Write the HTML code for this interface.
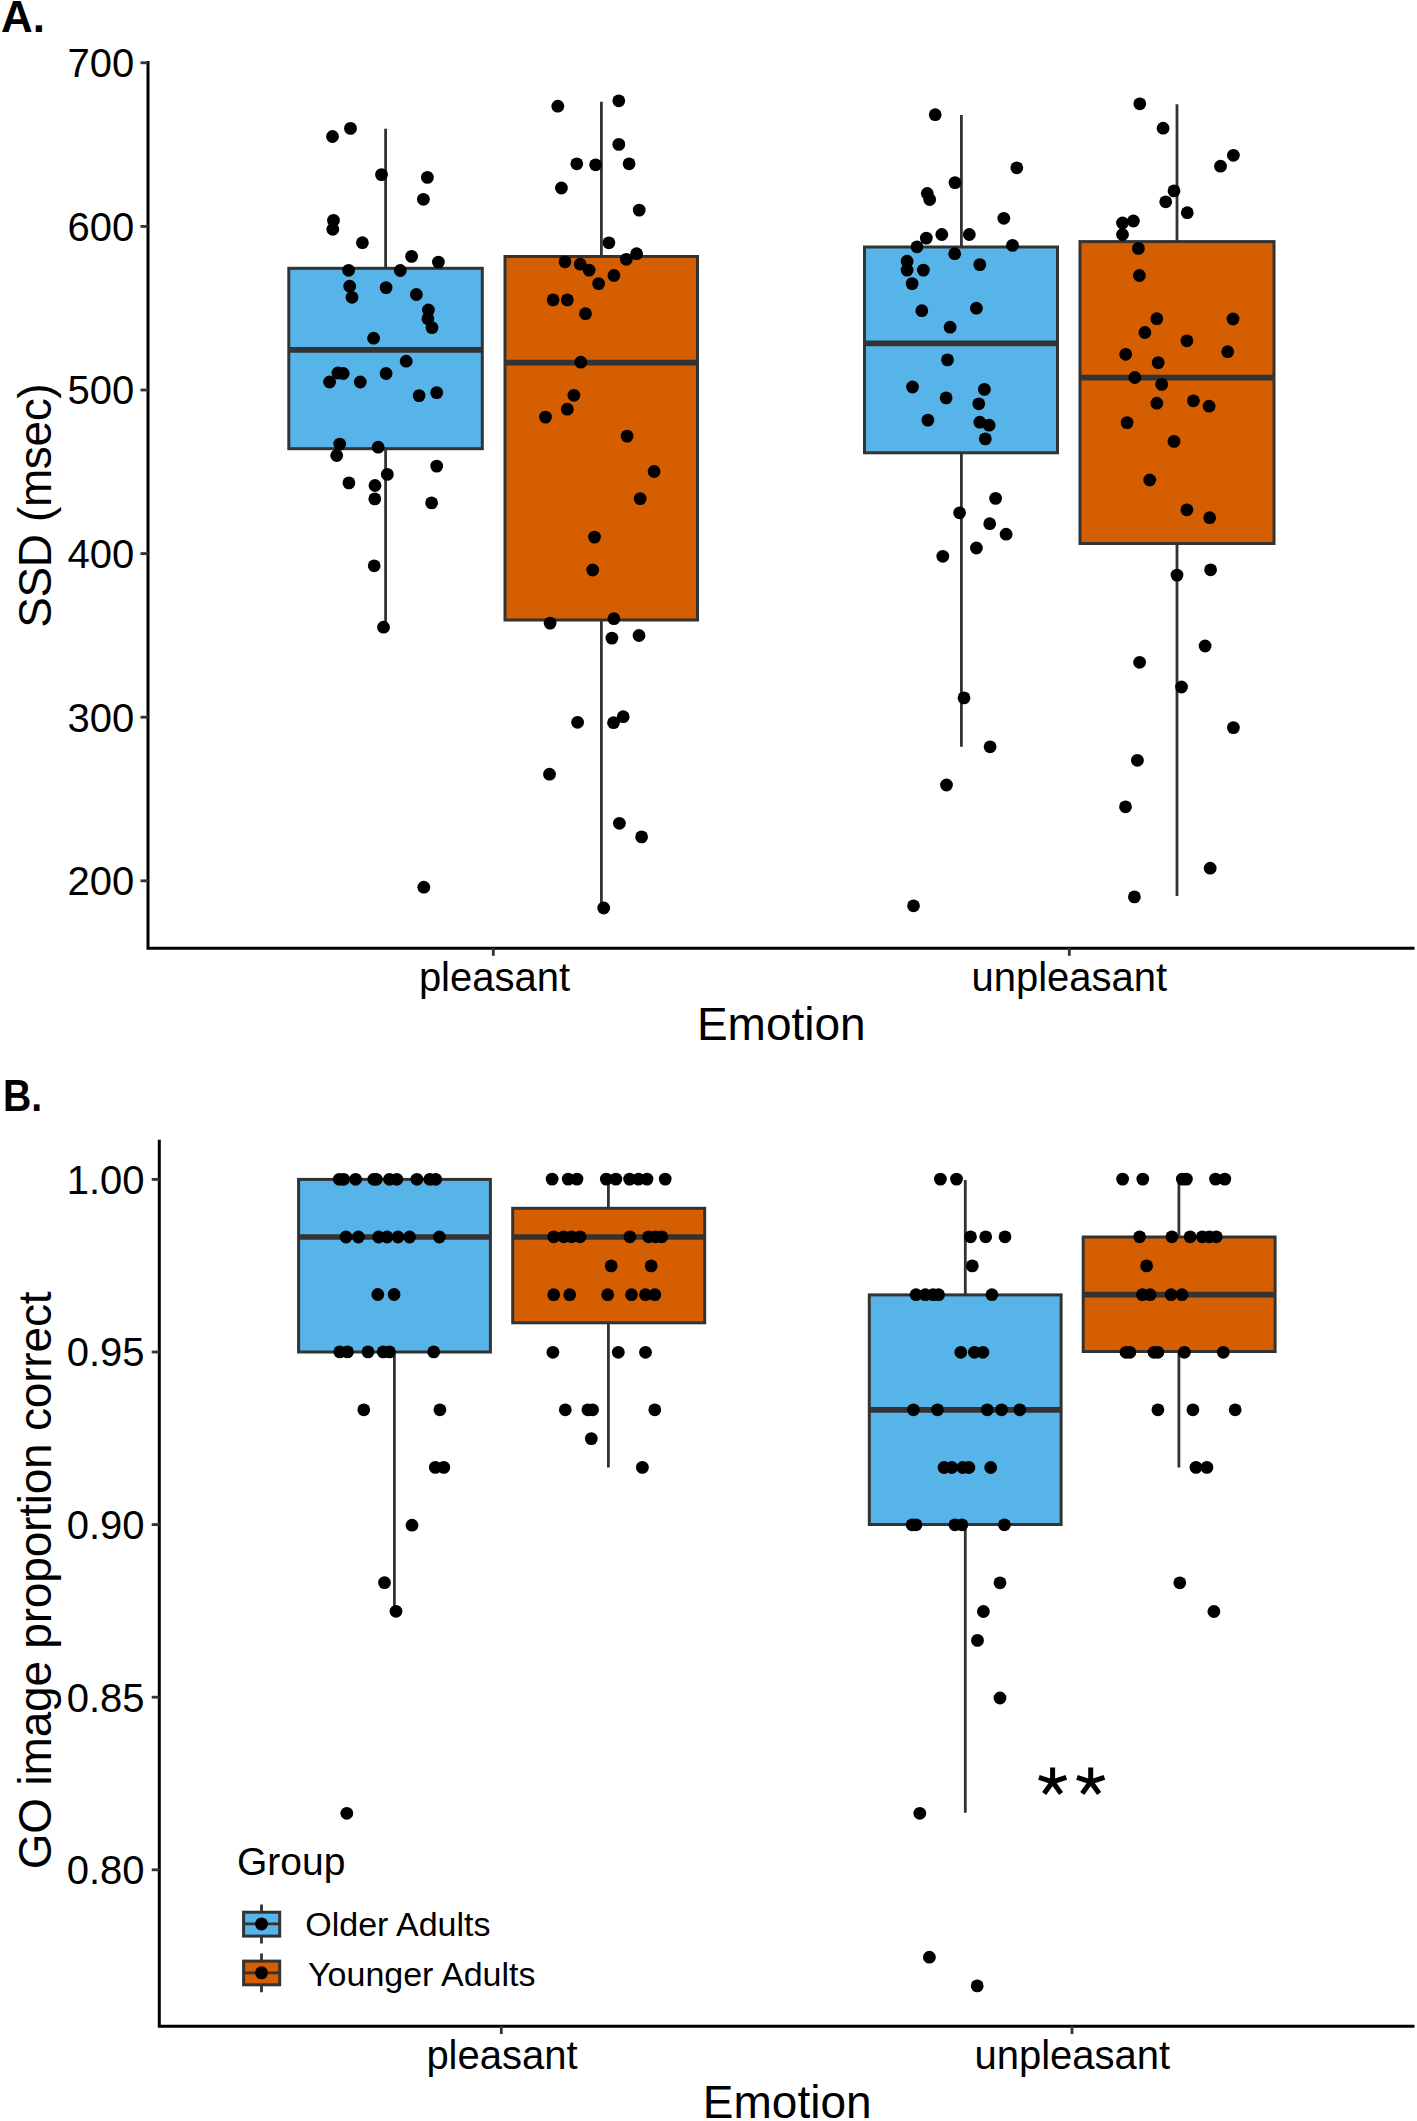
<!DOCTYPE html>
<html><head><meta charset="utf-8"><title>Boxplots</title>
<style>
html,body{margin:0;padding:0;background:#fff;}
body{width:1417px;height:2121px;overflow:hidden;}
svg{display:block;}
</style></head>
<body>
<svg width="1417" height="2121" viewBox="0 0 1417 2121">
<rect width="1417" height="2121" fill="#fff"/>
<g stroke="#000" stroke-width="3" fill="none">
<path d="M148 61 V948.2 H1414.5"/>
<path d="M159.3 1139.7 V2026.3 H1414.5"/>
</g>
<g stroke="#333333" stroke-width="2.8">
<path d="M140.5 62.8 H148"/>
<path d="M140.5 226.4 H148"/>
<path d="M140.5 390 H148"/>
<path d="M140.5 553.6 H148"/>
<path d="M140.5 717.2 H148"/>
<path d="M140.5 880.8 H148"/>
<path d="M493.3 948 V955.8"/>
<path d="M1069.3 948 V955.8"/>
<path d="M151.7 1179.4 H159.3"/>
<path d="M151.7 1352 H159.3"/>
<path d="M151.7 1524.6 H159.3"/>
<path d="M151.7 1697.2 H159.3"/>
<path d="M151.7 1869.8 H159.3"/>
<path d="M501.3 2026 V2034"/>
<path d="M1072 2026 V2034"/>
</g>
<g stroke="#333333">
<path d="M385.6 128.7 V268.3 M385.6 448.7 V627" stroke-width="2.8"/>
<rect x="288.8" y="268.3" width="193.5" height="180.4" fill="#56B4E9" stroke-width="3"/>
<path d="M288.8 349.9 H482.3" stroke-width="5.7"/>
</g>
<g stroke="#333333">
<path d="M601.4 101.8 V256.5 M601.4 620 V906" stroke-width="2.8"/>
<rect x="505" y="256.5" width="192.5" height="363.5" fill="#D55E00" stroke-width="3"/>
<path d="M505 362.6 H697.5" stroke-width="5.7"/>
</g>
<g stroke="#333333">
<path d="M961.4 115.1 V247 M961.4 452.8 V746.8" stroke-width="2.8"/>
<rect x="864.5" y="247" width="193" height="205.8" fill="#56B4E9" stroke-width="3"/>
<path d="M864.5 343.4 H1057.5" stroke-width="5.7"/>
</g>
<g stroke="#333333">
<path d="M1177 104.2 V241.6 M1177 543.5 V896" stroke-width="2.8"/>
<rect x="1080" y="241.6" width="194" height="301.9" fill="#D55E00" stroke-width="3"/>
<path d="M1080 377.7 H1274" stroke-width="5.7"/>
</g>
<g stroke="#333333">
<path d="M394.4 1179.4 V1179.4 M394.4 1352 V1610" stroke-width="2.8"/>
<rect x="298.6" y="1179.4" width="191.8" height="172.6" fill="#56B4E9" stroke-width="3"/>
<path d="M298.6 1237 H490.4" stroke-width="5.7"/>
</g>
<g stroke="#333333">
<path d="M608.4 1179.4 V1208.3 M608.4 1322.8 V1467.4" stroke-width="2.8"/>
<rect x="512.7" y="1208.3" width="192" height="114.5" fill="#D55E00" stroke-width="3"/>
<path d="M512.7 1237 H704.7" stroke-width="5.7"/>
</g>
<g stroke="#333333">
<path d="M965.3 1179.9 V1294.9 M965.3 1524.5 V1812.8" stroke-width="2.8"/>
<rect x="869.3" y="1294.9" width="191.8" height="229.6" fill="#56B4E9" stroke-width="3"/>
<path d="M869.3 1409.8 H1061.1" stroke-width="5.7"/>
</g>
<g stroke="#333333">
<path d="M1178.9 1179.4 V1237 M1178.9 1351.5 V1467.4" stroke-width="2.8"/>
<rect x="1083.2" y="1237" width="191.9" height="114.5" fill="#D55E00" stroke-width="3"/>
<path d="M1083.2 1294.7 H1275.1" stroke-width="5.7"/>
</g>
<g fill="#000">
<circle cx="332.5" cy="136.5" r="6.4"/>
<circle cx="350.5" cy="128.4" r="6.4"/>
<circle cx="381.5" cy="174.6" r="6.4"/>
<circle cx="427.4" cy="177.4" r="6.4"/>
<circle cx="423.4" cy="199.3" r="6.4"/>
<circle cx="333.5" cy="220.4" r="6.4"/>
<circle cx="332.8" cy="229.3" r="6.4"/>
<circle cx="362.4" cy="242.7" r="6.4"/>
<circle cx="411.6" cy="256.4" r="6.4"/>
<circle cx="438.4" cy="262.1" r="6.4"/>
<circle cx="348.6" cy="270.3" r="6.4"/>
<circle cx="400.3" cy="270.5" r="6.4"/>
<circle cx="349.7" cy="286.2" r="6.4"/>
<circle cx="352" cy="297.3" r="6.4"/>
<circle cx="386.1" cy="287.6" r="6.4"/>
<circle cx="416.4" cy="294.5" r="6.4"/>
<circle cx="428.4" cy="310" r="6.4"/>
<circle cx="427.9" cy="318.8" r="6.4"/>
<circle cx="432" cy="327.6" r="6.4"/>
<circle cx="373.6" cy="338.2" r="6.4"/>
<circle cx="406.2" cy="361.2" r="6.4"/>
<circle cx="337.9" cy="373" r="6.4"/>
<circle cx="343.2" cy="373.5" r="6.4"/>
<circle cx="329.6" cy="382" r="6.4"/>
<circle cx="360.3" cy="382" r="6.4"/>
<circle cx="386.1" cy="373.5" r="6.4"/>
<circle cx="419.1" cy="395.6" r="6.4"/>
<circle cx="436.7" cy="392.6" r="6.4"/>
<circle cx="339.7" cy="444.1" r="6.4"/>
<circle cx="336.7" cy="455.5" r="6.4"/>
<circle cx="378.2" cy="447.2" r="6.4"/>
<circle cx="436.7" cy="466.1" r="6.4"/>
<circle cx="387.3" cy="474.4" r="6.4"/>
<circle cx="348.9" cy="482.9" r="6.4"/>
<circle cx="375" cy="485.5" r="6.4"/>
<circle cx="374.8" cy="498.9" r="6.4"/>
<circle cx="431.6" cy="502.9" r="6.4"/>
<circle cx="374.2" cy="565.8" r="6.4"/>
<circle cx="383.5" cy="627.2" r="6.4"/>
<circle cx="423.8" cy="887.2" r="6.4"/>
<circle cx="557.8" cy="106.2" r="6.4"/>
<circle cx="618.8" cy="100.8" r="6.4"/>
<circle cx="618.8" cy="144.4" r="6.4"/>
<circle cx="576.8" cy="163.8" r="6.4"/>
<circle cx="595.6" cy="164.8" r="6.4"/>
<circle cx="629.1" cy="163.8" r="6.4"/>
<circle cx="561.4" cy="188" r="6.4"/>
<circle cx="639.2" cy="210.1" r="6.4"/>
<circle cx="608.9" cy="242.8" r="6.4"/>
<circle cx="636.6" cy="253.7" r="6.4"/>
<circle cx="626.3" cy="259.3" r="6.4"/>
<circle cx="565" cy="261.8" r="6.4"/>
<circle cx="580.2" cy="264.2" r="6.4"/>
<circle cx="589.1" cy="270.1" r="6.4"/>
<circle cx="613.9" cy="275.5" r="6.4"/>
<circle cx="598.6" cy="283.6" r="6.4"/>
<circle cx="553.1" cy="299.9" r="6.4"/>
<circle cx="567.3" cy="299.9" r="6.4"/>
<circle cx="585.5" cy="313.7" r="6.4"/>
<circle cx="580.8" cy="362.2" r="6.4"/>
<circle cx="573.9" cy="395.3" r="6.4"/>
<circle cx="567.3" cy="409.2" r="6.4"/>
<circle cx="545.5" cy="417.1" r="6.4"/>
<circle cx="627.1" cy="436.1" r="6.4"/>
<circle cx="654.1" cy="471.5" r="6.4"/>
<circle cx="640.2" cy="498.6" r="6.4"/>
<circle cx="594.5" cy="537.1" r="6.4"/>
<circle cx="592.7" cy="570" r="6.4"/>
<circle cx="550.1" cy="623.1" r="6.4"/>
<circle cx="613.9" cy="618.7" r="6.4"/>
<circle cx="611.9" cy="638.1" r="6.4"/>
<circle cx="639" cy="635.5" r="6.4"/>
<circle cx="577.6" cy="722.3" r="6.4"/>
<circle cx="613.5" cy="722.7" r="6.4"/>
<circle cx="623.2" cy="716.7" r="6.4"/>
<circle cx="549.5" cy="774.2" r="6.4"/>
<circle cx="619.4" cy="823.3" r="6.4"/>
<circle cx="641.6" cy="836.9" r="6.4"/>
<circle cx="603.7" cy="908" r="6.4"/>
<circle cx="935.2" cy="114.7" r="6.4"/>
<circle cx="1016.8" cy="167.8" r="6.4"/>
<circle cx="955" cy="182.6" r="6.4"/>
<circle cx="927.3" cy="193.5" r="6.4"/>
<circle cx="929.7" cy="199.5" r="6.4"/>
<circle cx="1003.8" cy="218.3" r="6.4"/>
<circle cx="926.3" cy="238.1" r="6.4"/>
<circle cx="941.8" cy="234.5" r="6.4"/>
<circle cx="969.3" cy="234.5" r="6.4"/>
<circle cx="917" cy="246.8" r="6.4"/>
<circle cx="1012.5" cy="245.4" r="6.4"/>
<circle cx="954.7" cy="253.7" r="6.4"/>
<circle cx="907.1" cy="261.2" r="6.4"/>
<circle cx="907.1" cy="270.1" r="6.4"/>
<circle cx="923.4" cy="270.1" r="6.4"/>
<circle cx="979.8" cy="264.6" r="6.4"/>
<circle cx="912.1" cy="283.6" r="6.4"/>
<circle cx="921.8" cy="310.7" r="6.4"/>
<circle cx="976.4" cy="308.2" r="6.4"/>
<circle cx="950.1" cy="327.2" r="6.4"/>
<circle cx="947.5" cy="359.9" r="6.4"/>
<circle cx="912.5" cy="387" r="6.4"/>
<circle cx="984.4" cy="389.4" r="6.4"/>
<circle cx="946.1" cy="397.9" r="6.4"/>
<circle cx="978.8" cy="403.8" r="6.4"/>
<circle cx="927.9" cy="420.1" r="6.4"/>
<circle cx="979.8" cy="422.2" r="6.4"/>
<circle cx="989.1" cy="425.2" r="6.4"/>
<circle cx="985.3" cy="438.9" r="6.4"/>
<circle cx="995.6" cy="498.4" r="6.4"/>
<circle cx="959.6" cy="512.8" r="6.4"/>
<circle cx="989.7" cy="523.7" r="6.4"/>
<circle cx="1006.1" cy="534.2" r="6.4"/>
<circle cx="976.4" cy="548" r="6.4"/>
<circle cx="942.8" cy="556.3" r="6.4"/>
<circle cx="964" cy="697.9" r="6.4"/>
<circle cx="990.1" cy="746.8" r="6.4"/>
<circle cx="946.5" cy="785" r="6.4"/>
<circle cx="913.5" cy="905.8" r="6.4"/>
<circle cx="1139.8" cy="103.8" r="6.4"/>
<circle cx="1163.1" cy="128.2" r="6.4"/>
<circle cx="1233.4" cy="155.3" r="6.4"/>
<circle cx="1220.5" cy="166.2" r="6.4"/>
<circle cx="1174" cy="190.9" r="6.4"/>
<circle cx="1165.7" cy="201.8" r="6.4"/>
<circle cx="1187.3" cy="212.7" r="6.4"/>
<circle cx="1122.5" cy="223" r="6.4"/>
<circle cx="1133.4" cy="221" r="6.4"/>
<circle cx="1122.5" cy="234.5" r="6.4"/>
<circle cx="1138.4" cy="248.4" r="6.4"/>
<circle cx="1139.4" cy="275.5" r="6.4"/>
<circle cx="1156.8" cy="318.7" r="6.4"/>
<circle cx="1233" cy="319" r="6.4"/>
<circle cx="1144.9" cy="332.5" r="6.4"/>
<circle cx="1186.9" cy="340.8" r="6.4"/>
<circle cx="1125.7" cy="354.3" r="6.4"/>
<circle cx="1227.7" cy="351.7" r="6.4"/>
<circle cx="1158.2" cy="362.6" r="6.4"/>
<circle cx="1134.8" cy="377.5" r="6.4"/>
<circle cx="1161.7" cy="384.4" r="6.4"/>
<circle cx="1156.8" cy="403.2" r="6.4"/>
<circle cx="1193.4" cy="400.8" r="6.4"/>
<circle cx="1209.1" cy="406.2" r="6.4"/>
<circle cx="1127.1" cy="422.6" r="6.4"/>
<circle cx="1174" cy="441.4" r="6.4"/>
<circle cx="1149.7" cy="480" r="6.4"/>
<circle cx="1186.9" cy="509.8" r="6.4"/>
<circle cx="1209.7" cy="517.7" r="6.4"/>
<circle cx="1210.6" cy="569.8" r="6.4"/>
<circle cx="1177" cy="575.1" r="6.4"/>
<circle cx="1205.1" cy="646" r="6.4"/>
<circle cx="1139.6" cy="662.3" r="6.4"/>
<circle cx="1181.5" cy="687" r="6.4"/>
<circle cx="1233.4" cy="727.6" r="6.4"/>
<circle cx="1137.4" cy="760.3" r="6.4"/>
<circle cx="1125.5" cy="806.8" r="6.4"/>
<circle cx="1210.2" cy="868.2" r="6.4"/>
<circle cx="1134.4" cy="896.9" r="6.4"/>
<circle cx="339.3" cy="1179.3" r="6.4"/>
<circle cx="343.7" cy="1179.3" r="6.4"/>
<circle cx="355.6" cy="1179.3" r="6.4"/>
<circle cx="373.8" cy="1179.3" r="6.4"/>
<circle cx="376.3" cy="1179.3" r="6.4"/>
<circle cx="389.5" cy="1179.3" r="6.4"/>
<circle cx="396.8" cy="1179.3" r="6.4"/>
<circle cx="416.9" cy="1179.3" r="6.4"/>
<circle cx="429.8" cy="1179.3" r="6.4"/>
<circle cx="435.7" cy="1179.3" r="6.4"/>
<circle cx="346" cy="1237" r="6.4"/>
<circle cx="358.4" cy="1237" r="6.4"/>
<circle cx="378.6" cy="1237" r="6.4"/>
<circle cx="387.1" cy="1237" r="6.4"/>
<circle cx="398" cy="1237" r="6.4"/>
<circle cx="409.6" cy="1237" r="6.4"/>
<circle cx="439.4" cy="1237" r="6.4"/>
<circle cx="377.8" cy="1294.5" r="6.4"/>
<circle cx="394.1" cy="1294.5" r="6.4"/>
<circle cx="339.8" cy="1351.9" r="6.4"/>
<circle cx="347.5" cy="1351.9" r="6.4"/>
<circle cx="368" cy="1351.9" r="6.4"/>
<circle cx="383.2" cy="1351.9" r="6.4"/>
<circle cx="389.5" cy="1351.9" r="6.4"/>
<circle cx="433.7" cy="1351.9" r="6.4"/>
<circle cx="363.8" cy="1409.8" r="6.4"/>
<circle cx="439.9" cy="1409.8" r="6.4"/>
<circle cx="435.3" cy="1467.4" r="6.4"/>
<circle cx="443.8" cy="1467.4" r="6.4"/>
<circle cx="412" cy="1525.2" r="6.4"/>
<circle cx="384.5" cy="1582.6" r="6.4"/>
<circle cx="396" cy="1611.3" r="6.4"/>
<circle cx="346.8" cy="1813.3" r="6.4"/>
<circle cx="552.1" cy="1179.1" r="6.4"/>
<circle cx="568.2" cy="1179.1" r="6.4"/>
<circle cx="577" cy="1179.1" r="6.4"/>
<circle cx="606.3" cy="1179.1" r="6.4"/>
<circle cx="615.9" cy="1179.1" r="6.4"/>
<circle cx="629.6" cy="1179.1" r="6.4"/>
<circle cx="638.5" cy="1179.1" r="6.4"/>
<circle cx="647" cy="1179.1" r="6.4"/>
<circle cx="665.2" cy="1179.1" r="6.4"/>
<circle cx="553.7" cy="1236.8" r="6.4"/>
<circle cx="563.8" cy="1236.8" r="6.4"/>
<circle cx="571.6" cy="1236.8" r="6.4"/>
<circle cx="580.1" cy="1236.8" r="6.4"/>
<circle cx="629.9" cy="1236.8" r="6.4"/>
<circle cx="648.6" cy="1236.8" r="6.4"/>
<circle cx="655.6" cy="1236.8" r="6.4"/>
<circle cx="661.8" cy="1236.8" r="6.4"/>
<circle cx="611.2" cy="1265.9" r="6.4"/>
<circle cx="651.2" cy="1265.9" r="6.4"/>
<circle cx="553.7" cy="1294.7" r="6.4"/>
<circle cx="569.7" cy="1294.7" r="6.4"/>
<circle cx="607.7" cy="1294.7" r="6.4"/>
<circle cx="631.5" cy="1294.7" r="6.4"/>
<circle cx="645.5" cy="1294.7" r="6.4"/>
<circle cx="654.8" cy="1294.7" r="6.4"/>
<circle cx="552.9" cy="1352.3" r="6.4"/>
<circle cx="618.3" cy="1352.3" r="6.4"/>
<circle cx="645.5" cy="1352.3" r="6.4"/>
<circle cx="565.3" cy="1409.8" r="6.4"/>
<circle cx="587.9" cy="1409.8" r="6.4"/>
<circle cx="592.6" cy="1409.8" r="6.4"/>
<circle cx="654.8" cy="1409.8" r="6.4"/>
<circle cx="591.3" cy="1438.6" r="6.4"/>
<circle cx="642.4" cy="1467.4" r="6.4"/>
<circle cx="940.4" cy="1179.1" r="6.4"/>
<circle cx="956.5" cy="1179.1" r="6.4"/>
<circle cx="970.5" cy="1236.8" r="6.4"/>
<circle cx="985.7" cy="1236.8" r="6.4"/>
<circle cx="1005" cy="1236.8" r="6.4"/>
<circle cx="972.3" cy="1265.9" r="6.4"/>
<circle cx="916" cy="1294.7" r="6.4"/>
<circle cx="925.3" cy="1294.7" r="6.4"/>
<circle cx="933.1" cy="1294.7" r="6.4"/>
<circle cx="938.6" cy="1294.7" r="6.4"/>
<circle cx="991.9" cy="1294.7" r="6.4"/>
<circle cx="960.8" cy="1352.3" r="6.4"/>
<circle cx="974.4" cy="1352.3" r="6.4"/>
<circle cx="982.9" cy="1352.3" r="6.4"/>
<circle cx="913.4" cy="1409.8" r="6.4"/>
<circle cx="937.5" cy="1409.8" r="6.4"/>
<circle cx="987.3" cy="1409.8" r="6.4"/>
<circle cx="1001.6" cy="1409.8" r="6.4"/>
<circle cx="1019.8" cy="1409.8" r="6.4"/>
<circle cx="944" cy="1467.5" r="6.4"/>
<circle cx="951.8" cy="1467.5" r="6.4"/>
<circle cx="962.7" cy="1467.5" r="6.4"/>
<circle cx="968.9" cy="1467.5" r="6.4"/>
<circle cx="990.7" cy="1467.5" r="6.4"/>
<circle cx="912.1" cy="1524.8" r="6.4"/>
<circle cx="916" cy="1524.8" r="6.4"/>
<circle cx="954.9" cy="1524.8" r="6.4"/>
<circle cx="961.9" cy="1524.8" r="6.4"/>
<circle cx="1004.4" cy="1524.8" r="6.4"/>
<circle cx="1000" cy="1582.8" r="6.4"/>
<circle cx="983.4" cy="1611.5" r="6.4"/>
<circle cx="977.5" cy="1640.4" r="6.4"/>
<circle cx="1000" cy="1698" r="6.4"/>
<circle cx="919.8" cy="1813.3" r="6.4"/>
<circle cx="929.4" cy="1957.2" r="6.4"/>
<circle cx="977.2" cy="1985.9" r="6.4"/>
<circle cx="1122.6" cy="1179.1" r="6.4"/>
<circle cx="1142.8" cy="1179.1" r="6.4"/>
<circle cx="1182.3" cy="1179.1" r="6.4"/>
<circle cx="1186.4" cy="1179.1" r="6.4"/>
<circle cx="1215.5" cy="1179.1" r="6.4"/>
<circle cx="1224.8" cy="1179.1" r="6.4"/>
<circle cx="1139.6" cy="1236.8" r="6.4"/>
<circle cx="1171.9" cy="1236.8" r="6.4"/>
<circle cx="1190.1" cy="1236.8" r="6.4"/>
<circle cx="1202.3" cy="1236.8" r="6.4"/>
<circle cx="1209.3" cy="1236.8" r="6.4"/>
<circle cx="1216.3" cy="1236.8" r="6.4"/>
<circle cx="1146.6" cy="1265.9" r="6.4"/>
<circle cx="1142.4" cy="1294.7" r="6.4"/>
<circle cx="1150.1" cy="1294.7" r="6.4"/>
<circle cx="1171.1" cy="1294.7" r="6.4"/>
<circle cx="1182" cy="1294.7" r="6.4"/>
<circle cx="1126" cy="1352.3" r="6.4"/>
<circle cx="1129.9" cy="1352.3" r="6.4"/>
<circle cx="1154" cy="1352.3" r="6.4"/>
<circle cx="1157.9" cy="1352.3" r="6.4"/>
<circle cx="1184.4" cy="1352.3" r="6.4"/>
<circle cx="1223.3" cy="1352.3" r="6.4"/>
<circle cx="1157.9" cy="1409.8" r="6.4"/>
<circle cx="1192.9" cy="1409.8" r="6.4"/>
<circle cx="1235.2" cy="1409.8" r="6.4"/>
<circle cx="1196" cy="1467.4" r="6.4"/>
<circle cx="1206.9" cy="1467.4" r="6.4"/>
<circle cx="1179.8" cy="1582.8" r="6.4"/>
<circle cx="1213.9" cy="1611.5" r="6.4"/>
</g>
<g font-family="'Liberation Sans', sans-serif" fill="#000">
<text x="1" y="32.4" font-size="44" font-weight="bold">A.</text>
<text transform="translate(3 1111.2) scale(0.89 1)" font-size="44" font-weight="bold">B.</text>
<g font-size="40" text-anchor="end">
<text x="134.2" y="77.1">700</text>
<text x="134.2" y="240.7">600</text>
<text x="134.2" y="404.3">500</text>
<text x="134.2" y="567.9">400</text>
<text x="134.2" y="731.5">300</text>
<text x="134.2" y="895.1">200</text>
<text x="144.6" y="1193.7">1.00</text>
<text x="144.6" y="1366.3">0.95</text>
<text x="144.6" y="1538.9">0.90</text>
<text x="144.6" y="1711.5">0.85</text>
<text x="144.6" y="1884.1">0.80</text>
</g>
<g font-size="40" text-anchor="middle">
<text x="494.5" y="991">pleasant</text>
<text x="1069.3" y="991">unpleasant</text>
<text x="502" y="2069">pleasant</text>
<text x="1072.3" y="2068.7">unpleasant</text>
</g>
<g font-size="46" text-anchor="middle">
<text x="781.3" y="1040.2">Emotion</text>
<text x="787.2" y="2117.6">Emotion</text>
<text transform="translate(50.6 505.8) rotate(-90)" letter-spacing="-0.38">SSD (msec)</text>
<text transform="translate(50.6 1580.5) rotate(-90)" letter-spacing="-0.2">GO image proportion correct</text>
</g>
<text x="237" y="1874.7" font-size="39">Group</text>
<text x="305.3" y="1936.4" font-size="34">Older Adults</text>
<text x="308" y="1985.6" font-size="34">Younger Adults</text>
</g>
<g stroke="#333333">
<path d="M261.5 1904.5 V1912.2 M261.5 1936.1 V1943.6" stroke-width="2.8"/>
<rect x="243.6" y="1912.2" width="36.1" height="23.9" fill="#56B4E9" stroke-width="3"/>
<path d="M243.6 1923.9 H279.7" stroke-width="2.8"/>
</g>
<circle cx="261.5" cy="1923.9" r="6.5" fill="#000"/>
<g stroke="#333333">
<path d="M261.5 1953.6 V1961.1 M261.5 1984.8 V1992.3" stroke-width="2.8"/>
<rect x="243.6" y="1961.1" width="36.1" height="23.7" fill="#D55E00" stroke-width="3"/>
<path d="M243.6 1972.8 H279.7" stroke-width="2.8"/>
</g>
<circle cx="261.5" cy="1972.8" r="6.5" fill="#000"/>
<path d="M1052.6 1781.8 L1052.6 1767.4 M1052.6 1781.8 L1066.3 1777.35 M1052.6 1781.8 L1061.06 1793.45 M1052.6 1781.8 L1044.14 1793.45 M1052.6 1781.8 L1038.9 1777.35" stroke="#000" stroke-width="5" fill="none"/>
<path d="M1090.7 1781.8 L1090.7 1767.4 M1090.7 1781.8 L1104.4 1777.35 M1090.7 1781.8 L1099.16 1793.45 M1090.7 1781.8 L1082.24 1793.45 M1090.7 1781.8 L1077 1777.35" stroke="#000" stroke-width="5" fill="none"/>
</svg>
</body></html>
